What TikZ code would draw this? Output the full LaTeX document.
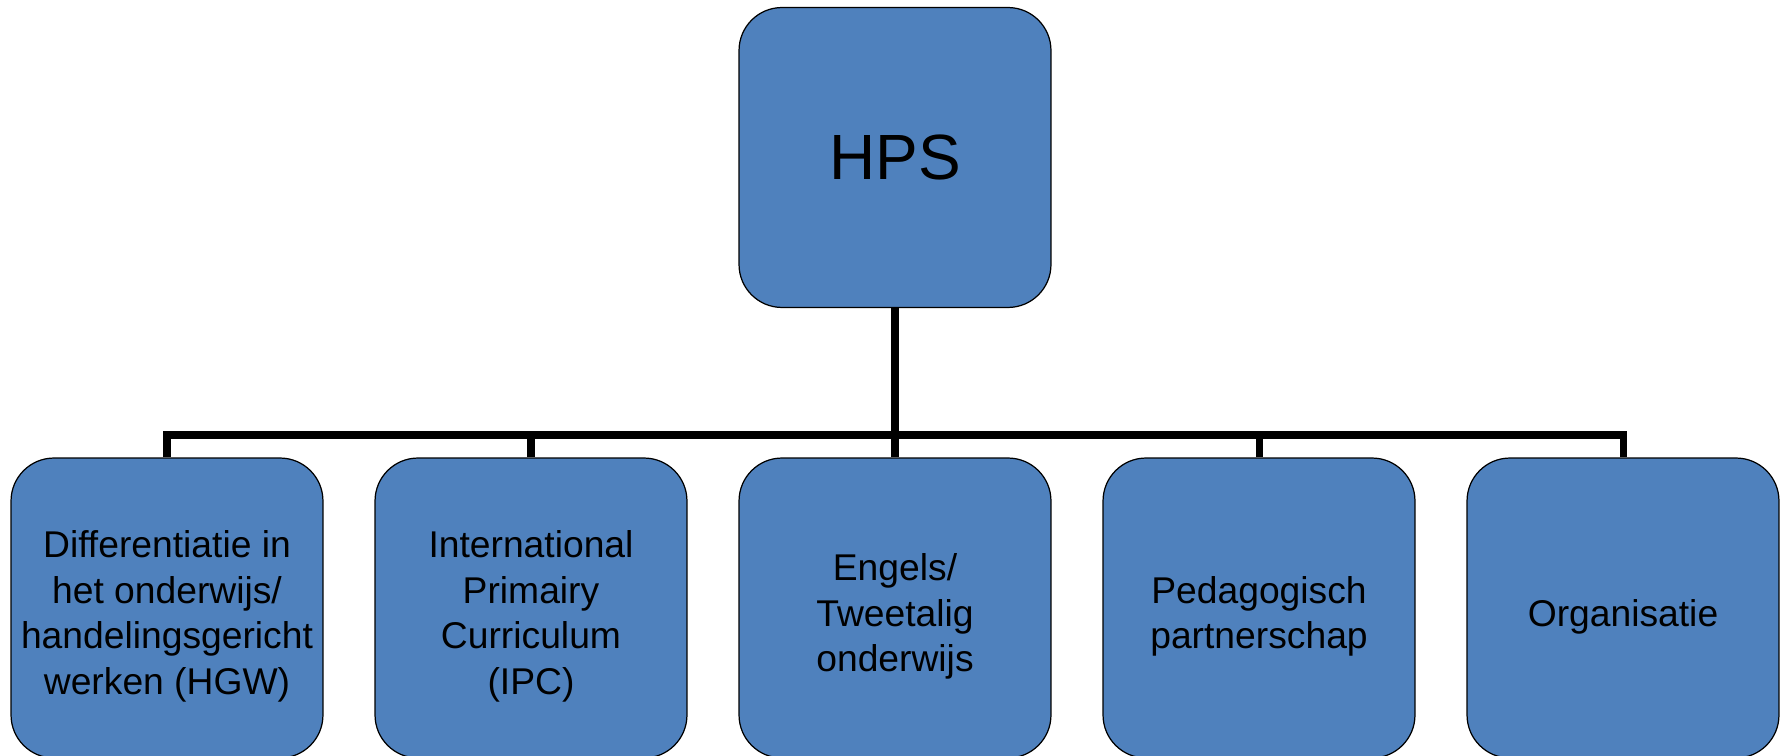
\documentclass[tikz,border=0pt]{standalone}
\usepackage{fontspec}
\setmainfont{Liberation Sans}
\usepackage{tikz}

\definecolor{boxblue}{RGB}{79,129,189}

\begin{document}
\begin{tikzpicture}[x=0.02cm,y=-0.02cm]

% Box and connector styles
\tikzset{
    unit/.style={
        draw=black,
        line width=0.7pt,
        fill=boxblue,
        rounded corners=0.86cm,
        minimum width=6.24cm,
        minimum height=6cm,
        align=center,
        font=\fontsize{21.2}{26}\selectfont
    },
    conn/.style={line width=4pt}
}
\useasboundingbox (0,0) rectangle (1785,756);

% Top box
\node[unit, font=\fontsize{36.4}{40}\selectfont] (hps) at (895,157.5) {HPS};

% Lower boxes
\node[unit, text height=103pt] (dif) at (167,608) {Differentiatie in\\het onderwijs/\\handelingsgericht\\werken (HGW)};
\node[unit, text height=103pt] (ipc) at (531,608) {International\\Primairy\\Curriculum\\(IPC)};
\node[unit, text height=77pt] (eng) at (895,608) {Engels/\\Tweetalig\\onderwijs};
\node[unit, text height=51pt] (ped) at (1259,608) {Pedagogisch\\partnerschap};
\node[unit, text height=25pt] (org) at (1623,608) {Organisatie};

% Connectors
\coordinate (bar) at (0,435);
\draw[conn] (hps.south) -- (hps.south |- bar);
\draw[conn] (dif.north) -- (dif.north |- bar) -- (org.north |- bar) -- (org.north);
\foreach \n in {ipc,eng,ped}
    \draw[conn] (\n.north) -- (\n.north |- bar);
\end{tikzpicture}
\end{document}
